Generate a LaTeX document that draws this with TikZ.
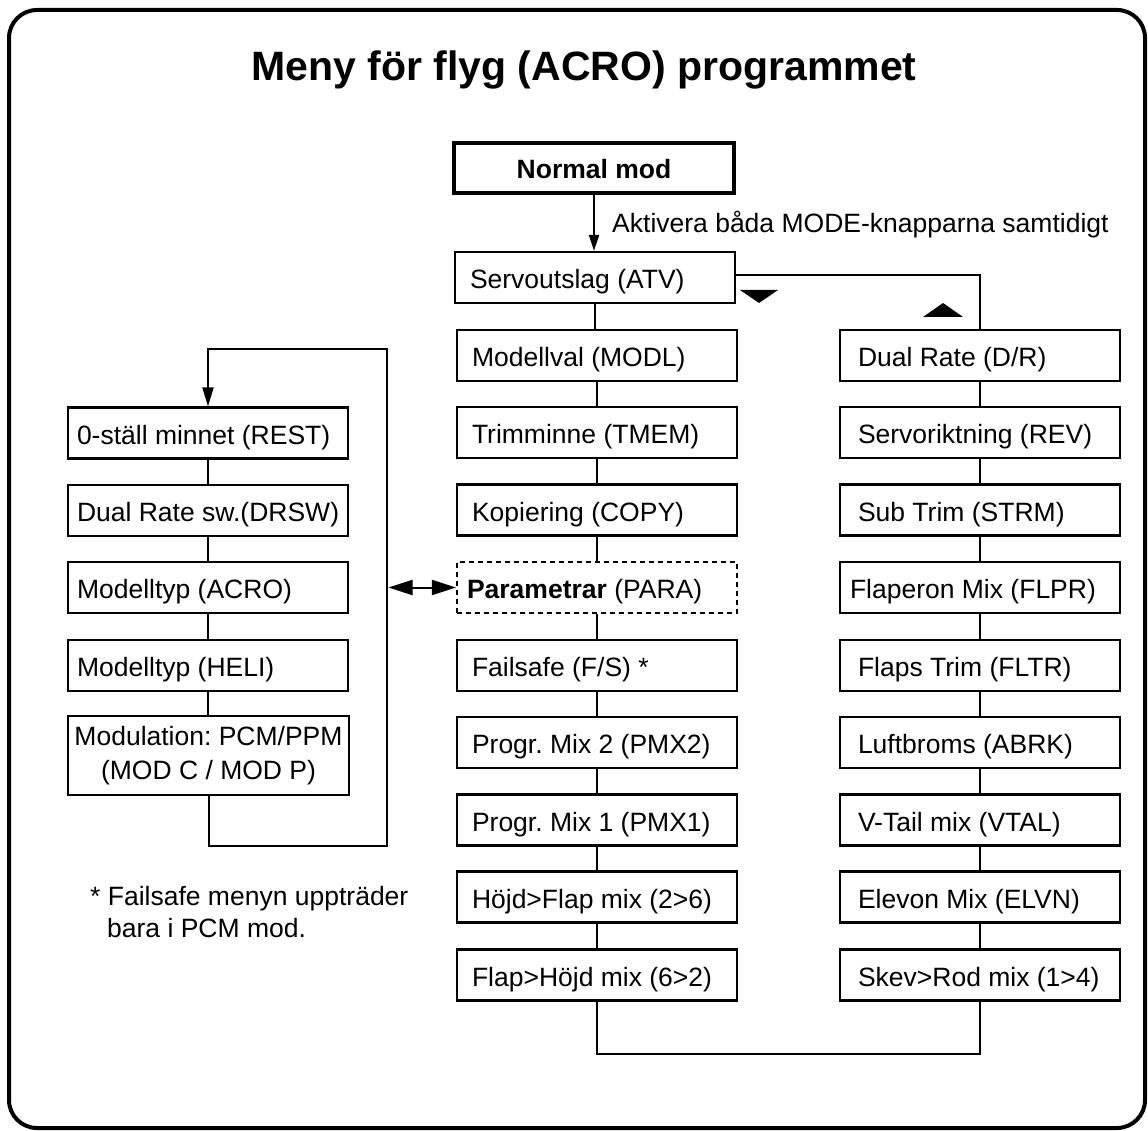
\documentclass[tikz,border=0pt]{standalone}
\usepackage{fontspec}
\setmainfont{Liberation Sans}
\usetikzlibrary{arrows.meta}
\frenchspacing
\newcommand\fs{\fontsize{26.5}{34}\selectfont}
\newcommand\bx[2]{\makebox[280pt][l]{\hspace*{#1}#2}}
\tikzset{
  box/.style={draw, line width=2.2pt, inner xsep=0pt, inner ysep=0pt,
    minimum height=51pt, text height=25pt, text depth=3pt, font=\fs},
  conn/.style={line width=2pt},
  txt/.style={font=\fs, inner sep=0pt},
}
\begin{document}
\begin{tikzpicture}[x=1pt,y=-1pt]
\useasboundingbox (0,0) rectangle (1148,1131);
\draw[line width=4pt, rounded corners=28pt] (9,10) rectangle (1145,1128);

\node[font=\fontsize{41}{48}\selectfont\bfseries, anchor=base, inner sep=0pt] (title) at (584,81) {Meny för flyg (ACRO) programmet};

% top
\node[box, line width=4.5pt, minimum width=280pt, minimum height=50pt, font=\fs\bfseries] (nm) at (594,168) {Normal mod};
\node[txt, anchor=base west] (akt) at (612,233) {Aktivera båda MODE-knapparna samtidigt};

% center column
\node[box] (sv) at (595,277.5) {\bx{15pt}{Servoutslag (ATV)}};
\node[box] (c1) at (597,355.5) {\bx{15pt}{Modellval (MODL)}};
\node[box] (c2) at (597,432.5) {\bx{15pt}{Trimminne (TMEM)}};
\node[box] (c3) at (597,510) {\bx{15pt}{Kopiering (COPY)}};
\node[box, dash pattern=on 5pt off 4pt] (para) at (597,587.5) {\bx{10pt}{\textbf{Parametrar} (PARA)}};
\node[box] (c5) at (597,665.5) {\bx{15pt}{Failsafe (F/S) *}};
\node[box] (c6) at (597,742.5) {\bx{15pt}{Progr. Mix 2 (PMX2)}};
\node[box] (c7) at (597,820) {\bx{15pt}{Progr. Mix 1 (PMX1)}};
\node[box] (c8) at (597,897) {\bx{15pt}{Höjd>Flap mix (2>6)}};
\node[box] (fh) at (597,975) {\bx{15pt}{Flap>Höjd mix (6>2)}};

% right column
\node[box] (dr) at (980,355.5) {\bx{18pt}{Dual Rate (D/R)}};
\node[box] (r2) at (980,432.5) {\bx{18pt}{Servoriktning (REV)}};
\node[box] (r3) at (980,510) {\bx{18pt}{Sub Trim (STRM)}};
\node[box] (r4) at (980,587.5) {\bx{10pt}{Flaperon Mix (FLPR)}};
\node[box] (r5) at (980,665.5) {\bx{18pt}{Flaps Trim (FLTR)}};
\node[box] (r6) at (980,742.5) {\bx{18pt}{Luftbroms (ABRK)}};
\node[box] (r7) at (980,820) {\bx{18pt}{V-Tail mix (VTAL)}};
\node[box] (r8) at (980,897) {\bx{18pt}{Elevon Mix (ELVN)}};
\node[box] (sr) at (980,975) {\bx{18pt}{Skev>Rod mix (1>4)}};

% left column
\node[box] (rest) at (208,433) {\bx{9pt}{0-ställ minnet (REST)}};
\node[box] (l2) at (208,510.5) {\bx{9pt}{Dual Rate sw.(DRSW)}};
\node[box] (l3) at (208,587.5) {\bx{9pt}{Modelltyp (ACRO)}};
\node[box] (l4) at (208,665.5) {\bx{9pt}{Modelltyp (HELI)}};
\node[draw, line width=2.2pt, inner sep=0pt, minimum width=281pt, minimum height=79pt, align=center, font=\fs] (mod) at (208.5,755.5) {Modulation: PCM/PPM\\(MOD C / MOD P)};

% footnote
\node[txt, anchor=base west] (fn1) at (90,905) {* Failsafe menyn uppträder};
\node[txt, anchor=base west] (fn2) at (107,937) {bara i PCM mod.};

% connectors
\draw[conn, -{Triangle[length=16pt,width=10pt]}] (nm.south) -- (nm.south |- sv.north);
\draw[conn] (sv.south) -- (sv.south |- c1.north);
\foreach \a/\b in {c1/c2,c2/c3,c3/para,para/c5,c5/c6,c6/c7,c7/c8,c8/fh,
                   dr/r2,r2/r3,r3/r4,r4/r5,r5/r6,r6/r7,r7/r8,r8/sr,
                   rest/l2,l2/l3,l3/l4,l4/mod}
  \draw[conn] (\a.south) -- (\a.south |- \b.north);
\draw[conn] (sv.east |- 0,275) -| (dr.north);

\coordinate (lb) at (387,846);
\coordinate (lt) at (387,349);
\coordinate (la) at (388.5,587.5);
\coordinate (bl) at (597,1054);
\draw[conn, -{Triangle[length=19pt,width=11pt]}] (mod.south) |- (lb) -- (lt) -| (rest.north);
\draw[conn, {Triangle[length=24pt,width=15pt]}-{Triangle[length=24pt,width=15pt]}] (la) -- (para.west);
\draw[conn] (fh.south) -- (fh.south |- bl) -| (sr.south);

% direction marks
\fill (740,290) -- (778,290) -- (759,303) -- cycle;
\fill (923,317) -- (963,317) -- (943,303) -- cycle;
\end{tikzpicture}
\end{document}
